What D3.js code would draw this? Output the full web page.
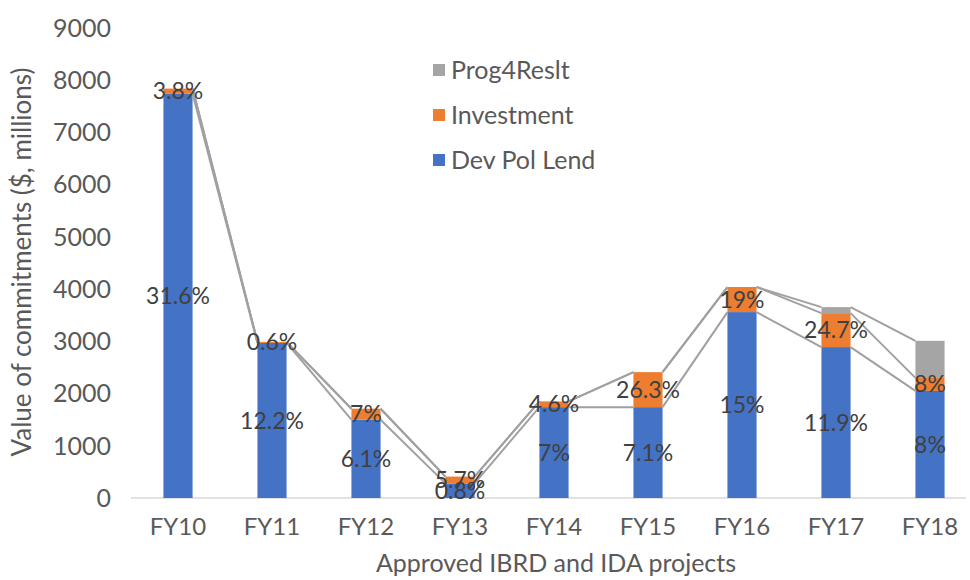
<!DOCTYPE html>
<html lang="en">
<head>
<meta charset="UTF-8">
<title>Commitments by instrument</title>
<script src="https://d3js.org/d3.v7.min.js"></script>
<style>
  body { margin: 0; background: #fff; }
  svg { display: block; font-family: Lato, 'Open Sans', sans-serif; }
</style>
</head>
<body>
<div id="chart"></div>
<script>
// --- Data ---
const years = ["FY10", "FY11", "FY12", "FY13", "FY14", "FY15", "FY16", "FY17", "FY18"];
const devPolLend = [7740, 2970, 1500, 280, 1740, 1740, 3560, 2890, 2050];
const investment = [100, 20, 210, 130, 110, 670, 480, 650, 250];
const prog4Reslt = [0, 0, 0, 0, 0, 0, 0, 115, 710];
const devLabels = ["31.6%", "12.2%", "6.1%", "0.8%", "7%", "7.1%", "15%", "11.9%", "8%"];
const invLabels = ["3.8%", "0.6%", "7%", "5.7%", "4.6%", "26.3%", "19%", "24.7%", "8%"];
const yTicks = [0, 1000, 2000, 3000, 4000, 5000, 6000, 7000, 8000, 9000];

const seriesKeys = ["Dev Pol Lend", "Investment", "Prog4Reslt"];
const colors = { "Dev Pol Lend": "#4472c4", "Investment": "#ed7d31", "Prog4Reslt": "#a5a5a5" };

const W = 970, H = 580;
const svg = d3.select("#chart").append("svg").attr("width", W).attr("height", H);

const rows = years.map((y, i) => ({
  year: y,
  "Dev Pol Lend": devPolLend[i],
  "Investment": investment[i],
  "Prog4Reslt": prog4Reslt[i]
}));
const stacked = d3.stack().keys(seriesKeys)(rows);

const x = d3.scaleBand().domain(years).range([131, 977]).paddingInner(0.69).paddingOuter(0.345);
const y = d3.scaleLinear().domain([0, 9000]).range([498, 28]);

// y tick labels (no gridlines)
svg.append("g").selectAll("text").data(yTicks).enter().append("text")
  .attr("x", 111).attr("y", d => y(d)).attr("dy", "0.35em")
  .attr("text-anchor", "end").attr("fill", "#595959").style("font-size", "25px")
  .text(d => d);

// baseline
svg.append("line").attr("x1", 131).attr("x2", 966).attr("y1", y(0)).attr("y2", y(0))
  .attr("stroke", "#d9d9d9").attr("stroke-width", 1.5);

// bars
stacked.forEach(s => {
  svg.append("g").selectAll("rect").data(s).enter().append("rect")
    .attr("x", d => x(d.data.year))
    .attr("width", x.bandwidth())
    .attr("y", d => y(d[1]))
    .attr("height", d => y(d[0]) - y(d[1]))
    .attr("fill", colors[s.key]);
});

// series lines between bars
const lines = svg.append("g").attr("fill", "none").attr("stroke", "#a0a0a0").attr("stroke-width", 2);
stacked.forEach(s => {
  for (let i = 0; i < years.length - 1; i++) {
    lines.append("line")
      .attr("x1", x(years[i]) + x.bandwidth()).attr("y1", y(s[i][1]))
      .attr("x2", x(years[i + 1])).attr("y2", y(s[i + 1][1]));
  }
});

// data labels
const labelSets = [[stacked[0], devLabels], [stacked[1], invLabels]];
labelSets.forEach(([s, labels]) => {
  svg.append("g").selectAll("text").data(s).enter().append("text")
    .attr("x", d => x(d.data.year) + x.bandwidth() / 2)
    .attr("y", d => y((d[0] + d[1]) / 2))
    .attr("dy", "0.35em").attr("text-anchor", "middle")
    .attr("fill", "#404040").style("font-size", "23px")
    .text((d, i) => labels[i]);
});

// x tick labels
svg.append("g").selectAll("text").data(years).enter().append("text")
  .attr("x", d => x(d) + x.bandwidth() / 2).attr("y", 527).attr("dy", "0.35em")
  .attr("text-anchor", "middle").attr("fill", "#595959").style("font-size", "24px")
  .text(d => d);

// axis titles
svg.append("text").attr("x", 556).attr("y", 563).attr("dy", "0.35em")
  .attr("text-anchor", "middle").attr("fill", "#595959").style("font-size", "25px")
  .text("Approved IBRD and IDA projects");
svg.append("text").attr("transform", "translate(22,262) rotate(-90)").attr("dy", "0.35em")
  .attr("text-anchor", "middle").attr("fill", "#595959").style("font-size", "26px")
  .text("Value of commitments ($, millions)");

// legend
const legendItems = ["Prog4Reslt", "Investment", "Dev Pol Lend"];
const legend = svg.append("g").attr("transform", "translate(433,70)");
legendItems.forEach((k, i) => {
  const g = legend.append("g").attr("transform", `translate(0,${i * 45})`);
  g.append("rect").attr("x", 0).attr("y", -6).attr("width", 12).attr("height", 12).attr("fill", colors[k]);
  g.append("text").attr("x", 18).attr("y", 0).attr("dy", "0.35em")
    .attr("fill", "#595959").style("font-size", "25px").text(k);
});
</script>
</body>
</html>
